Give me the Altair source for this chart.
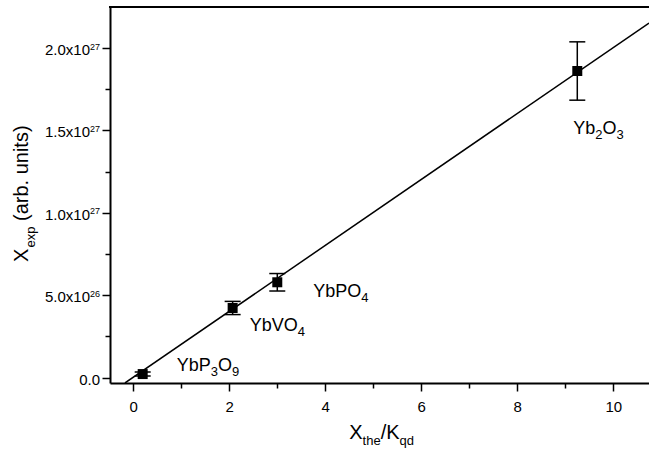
import altair as alt
import pandas as pd

# ---- data ----
compounds = ["YbP3O9", "YbVO4", "YbPO4", "Yb2O3"]
# how each compound name is typeset: (text, is_subscript)
compound_parts = [
    [("YbP", 0), ("3", 1), ("O", 0), ("9", 1)],
    [("YbVO", 0), ("4", 1)],
    [("YbPO", 0), ("4", 1)],
    [("Yb", 0), ("2", 1), ("O", 0), ("3", 1)],
]
x_the = [0.196, 2.07, 3.0, 9.25]
x_exp = [0.022e27, 0.423e27, 0.579e27, 1.861e27]
x_err = [0.012e27, 0.040e27, 0.053e27, 0.177e27]

fit_x = [-0.173, 10.744]
fit_y = [-0.032e27, 2.152e27]

x_domain = [-0.485, 10.744]
y_domain = [-0.0322e27, 2.2494e27]

x_major = [0, 2, 4, 6, 8, 10]
x_minor = [1, 3, 5, 7, 9]
y_major = [0.0, 0.5e27, 1.0e27, 1.5e27, 2.0e27]
y_mantissa = ["0.0", "5.0x10", "1.0x10", "1.5x10", "2.0x10"]
y_exponent = ["", "26", "27", "27", "27"]
y_minor = [0.25e27, 0.75e27, 1.25e27, 1.75e27]

FONT = "Liberation Sans"
W, H = 539, 376

# Arial / Liberation Sans advance widths (em) used to chain text pieces
ADV = {"Y": .667, "b": .556, "P": .667, "V": .667, "O": .778, "X": .667, "K": .667,
       "/": .278, "t": .278, "h": .556, "e": .556, "q": .556, "d": .556}


def text_width(s, size):
    return sum(ADV.get(c, .556) for c in s) * size


pts = pd.DataFrame({"compound": compounds, "x": x_the, "y": x_exp, "err": x_err})
fit = pd.DataFrame({"fx": fit_x, "fy": fit_y})
yt = pd.DataFrame({"v": y_major, "m": y_mantissa, "e": y_exponent})

xs = alt.Scale(domain=x_domain, nice=False, zero=False)
ys = alt.Scale(domain=y_domain, nice=False, zero=False)

x_axis_major = alt.Axis(orient="bottom", values=x_major, tickSize=8, tickWidth=1.5,
                        domainWidth=2, domainColor="black", tickColor="black",
                        labelPadding=8, format="d", grid=False, title=None,
                        labelFont=FONT, labelFontSize=15, labelColor="black")
y_axis_major = alt.Axis(orient="left", values=y_major, tickSize=8, tickWidth=1.5,
                        domainWidth=2, domainColor="black", tickColor="black",
                        labels=False, grid=False, title=None)
x_axis_minor = alt.Axis(orient="bottom", values=x_minor, tickSize=5, tickWidth=1.5,
                        labels=False, domain=False, grid=False, title=None, tickColor="black")
y_axis_minor = alt.Axis(orient="left", values=y_minor, tickSize=5, tickWidth=1.5,
                        labels=False, domain=False, grid=False, title=None, tickColor="black")

base = alt.Chart(pts)

points = base.mark_square(size=100, color="black", opacity=1).encode(
    x=alt.X("x:Q", scale=xs, axis=x_axis_major),
    y=alt.Y("y:Q", scale=ys, axis=y_axis_major),
)

errs = base.transform_calculate(lo="datum.y - datum.err", hi="datum.y + datum.err")

err_rule = errs.mark_rule(color="black", strokeWidth=1.5).encode(
    x=alt.X("x:Q", scale=xs, axis=None),
    y=alt.Y("lo:Q", scale=ys, axis=None),
    y2="hi:Q",
)
cap_lo = errs.mark_tick(orient="horizontal", size=16, thickness=1.5, color="black", opacity=1).encode(
    x=alt.X("x:Q", scale=xs, axis=None),
    y=alt.Y("lo:Q", scale=ys, axis=None),
)
cap_hi = errs.mark_tick(orient="horizontal", size=16, thickness=1.5, color="black", opacity=1).encode(
    x=alt.X("x:Q", scale=xs, axis=None),
    y=alt.Y("hi:Q", scale=ys, axis=None),
)

line = alt.Chart(fit).mark_line(color="black", strokeWidth=1.5, clip=True).encode(
    x=alt.X("fx:Q", scale=xs, axis=x_axis_minor),
    y=alt.Y("fy:Q", scale=ys, axis=y_axis_minor),
)

top_rule = alt.Chart(fit).mark_rule(color="black", strokeWidth=2).encode(
    x=alt.value(-1), x2=alt.value(W), y=alt.value(0)
)

# y tick labels: mantissa + raised exponent
yt_base = alt.Chart(yt)
ylab_m = yt_base.transform_filter("datum.e != ''").mark_text(
    align="right", baseline="middle", fontSize=15, font=FONT, color="black", dy=2
).encode(y=alt.Y("v:Q", scale=ys, axis=None), x=alt.value(-20), text="m:N")
ylab_zero = yt_base.transform_filter("datum.e == ''").mark_text(
    align="right", baseline="middle", fontSize=15, font=FONT, color="black", dy=2
).encode(y=alt.Y("v:Q", scale=ys, axis=None), x=alt.value(-10), text="m:N")
ylab_e = yt_base.transform_filter("datum.e != ''").mark_text(
    align="left", baseline="alphabetic", fontSize=9, font=FONT, color="black", dy=1.5
).encode(y=alt.Y("v:Q", scale=ys, axis=None), x=alt.value(-20), text="e:N")

# compound labels, built from normal and subscript pieces
LBL, SUB, DROP = 18, 13, 5
label_offsets = [(34, -3), (17, 23), (36, 15), (-4, 63)]
labels = []
for name, parts, (dx0, dy0) in zip(compounds, compound_parts, label_offsets):
    cx = dx0
    for txt, sub in parts:
        size = SUB if sub else LBL
        labels.append(
            base.transform_filter(alt.datum.compound == name)
            .mark_text(align="left", baseline="alphabetic", dx=cx, dy=dy0 + (DROP if sub else 0),
                       fontSize=size, font=FONT, color="black")
            .encode(
                x=alt.X("x:Q", scale=xs, axis=None),
                y=alt.Y("y:Q", scale=ys, axis=None),
                text=alt.value(txt),
            )
        )
        cx += text_width(txt, size)


def piece(text, x, y, size, angle=0):
    return alt.Chart(alt.Data(values=[{"t": text}])).mark_text(
        align="left", baseline="alphabetic", fontSize=size, font=FONT,
        color="black", angle=angle,
    ).encode(x=alt.value(x), y=alt.value(y), text="t:N")


titles = [
    # x title: X_the / K_qd
    piece("X", 239.3, 432.3, 20),
    piece("the", 252.6, 438.3, 13),
    piece("/K", 270.7, 432.3, 20),
    piece("qd", 289.6, 438.3, 13),
    # y title: X_exp (arb. units)
    piece("X", -81.7, 255, 20, 270),
    piece("exp", -75.5, 240.5, 13, 270),
    piece("(arb. units)", -81.7, 214, 20, 270),
]

chart = alt.layer(
    points, line, err_rule, cap_lo, cap_hi, top_rule,
    ylab_m, ylab_zero, ylab_e, *labels, *titles
).resolve_axis(
    x="independent", y="independent"
).properties(
    width=W, height=H,
    autosize=alt.AutoSizeParams(type="none"),
    padding={"left": 110, "top": 7, "right": 0, "bottom": 68},
    background="white",
).configure_view(stroke=None)

chart.save("out.html", embed_options={"renderer": "svg", "actions": False})
